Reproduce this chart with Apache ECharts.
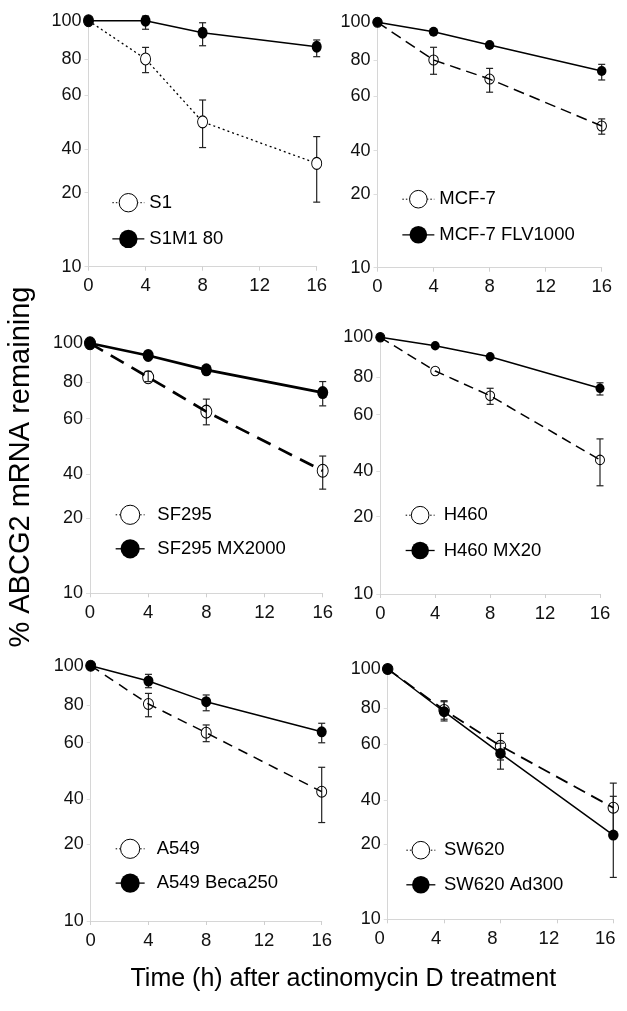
<!DOCTYPE html>
<html><head><meta charset="utf-8">
<script src="https://cdn.jsdelivr.net/npm/echarts@6/dist/echarts.min.js"></script>
<style>html,body{margin:0;padding:0;background:#fff}#c{width:627px;height:1011px}</style>
</head><body><div id="c"></div>
<script>
// ---------- data ----------
const hours = [0, 4, 8, 16];
const xTickInterval = 4;
// y axis is logarithmic (10-100); printed tick texts sit at these scale positions
const yTickValues = [10, 20, 30, 50, 70, 100];
const yTickLabels = ['10', '20', '40', '60', '80', '100'];
const xTitle = 'Time (h) after actinomycin D treatment';
const yTitle = '% ABCG2 mRNA remaining';

// panel 1
const p1Names = ['S1', 'S1M1 80'];
const p1Open = [100, 69.9, 38.8, 26.3];
const p1OpenLow = [null, 61.5, 30.5, 18.3];
const p1OpenHigh = [null, 77.9, 47.6, 33.8];
const p1Filled = [100, 100, 89.4, 78.4];
const p1FilledLow = [null, 92.3, 79.1, 71.4];
const p1FilledHigh = [null, 104.5, 98.1, 83.5];

// panel 2
const p2Names = ['MCF-7', 'MCF-7 FLV1000'];
const p2Open = [100, 70.2, 58.7, 37.8];
const p2OpenLow = [null, 61.4, 51.9, 35.0];
const p2OpenHigh = [null, 79.1, 64.9, 40.4];
const p2Filled = [100, 91.5, 80.8, 63.3];
const p2FilledLow = [null, null, null, 58.2];
const p2FilledHigh = [null, null, null, 67.4];

// panel 3
const p3Names = ['SF295', 'SF295 MX2000'];
const p3Open = [100, 73.2, 53.3, 30.9];
const p3OpenLow = [null, 70.3, 47.2, 26.1];
const p3OpenHigh = [null, 77.2, 59.8, 35.4];
const p3Filled = [100, 89.4, 78.3, 63.5];
const p3FilledLow = [null, null, null, 56.2];
const p3FilledHigh = [null, null, null, 70.3];

// panel 4
const p4Names = ['H460', 'H460 MX20'];
const p4Open = [100, 73.9, 59.2, 33.3];
const p4OpenLow = [null, null, 54.8, 26.4];
const p4OpenHigh = [null, null, 63.3, 40.2];
const p4Filled = [100, 92.7, 84.0, 63.3];
const p4FilledLow = [null, null, null, 59.6];
const p4FilledHigh = [null, null, null, 66.5];

// panel 5
const p5Names = ['A549', 'A549 Beca250'];
const p5Open = [100, 70.8, 54.6, 32.1];
const p5OpenLow = [null, 63.1, 50.4, 24.3];
const p5OpenHigh = [null, 77.9, 58.6, 40.0];
const p5Filled = [100, 87.1, 72.3, 55.1];
const p5FilledLow = [null, 82.0, 66.6, 49.9];
const p5FilledHigh = [null, 92.5, 76.8, 59.5];

// panel 6
const p6Names = ['SW620', 'SW620 Ad300'];
const p6Open = [100, 68.6, 49.3, 27.9];
const p6OpenLow = [null, 63.0, 43.3, 22.4];
const p6OpenHigh = [null, 74.7, 55.3, 35.0];
const p6Filled = [100, 67.5, 46.0, 21.7];
const p6FilledLow = [null, 62.0, 39.8, 14.7];
const p6FilledHigh = [null, 74.0, 50.5, 31.0];

// ---------- layout / style ----------
const FONT = '"Liberation Sans", Arial, sans-serif';
const panels = [
  {names:p1Names, open:[p1Open,p1OpenLow,p1OpenHigh], filled:[p1Filled,p1FilledLow,p1FilledHigh],
   grid:{left:88.5, top:20.7, width:228.2, height:246},
   legend:{left:111.7, top:193, itemGap:17, itemWidth:32, itemHeight:23, pad:0},
   openLine:{type:[2,3], width:1.3}, filledWidth:1.5, sym:[10,12], openFill:'#fff', xPad:0},
  {names:p2Names, open:[p2Open,p2OpenLow,p2OpenHigh], filled:[p2Filled,p2FilledLow,p2FilledHigh],
   grid:{left:377.5, top:22.3, width:224.2, height:245.4},
   legend:{left:401.7, top:189.7, itemGap:16.6, itemWidth:32, itemHeight:22, pad:0},
   openLine:{type:[11,6], width:1.5}, filledWidth:1.5, sym:[9.5,10], openFill:'rgba(255,255,255,0)', xPad:0},
  {names:p3Names, open:[p3Open,p3OpenLow,p3OpenHigh], filled:[p3Filled,p3FilledLow,p3FilledHigh],
   grid:{left:90, top:343.3, width:232.7, height:250},
   legend:{left:115, top:504.7, itemGap:14.3, itemWidth:29, itemHeight:24, pad:7.7},
   openLine:{type:[15,9], width:2.7}, filledWidth:2.7, sym:[11,13], openFill:'rgba(255,255,255,0)', xPad:0},
  {names:p4Names, open:[p4Open,p4OpenLow,p4OpenHigh], filled:[p4Filled,p4FilledLow,p4FilledHigh],
   grid:{left:380.3, top:337.3, width:219.7, height:256.7},
   legend:{left:405, top:505.7, itemGap:16.3, itemWidth:29, itemHeight:22, pad:4},
   openLine:{type:[10,6], width:1.5}, filledWidth:1.5, sym:[9,9.5], openFill:'rgba(255,255,255,0)', xPad:0},
  {names:p5Names, open:[p5Open,p5OpenLow,p5OpenHigh], filled:[p5Filled,p5FilledLow,p5FilledHigh],
   grid:{left:90.7, top:665.7, width:231, height:255.3},
   legend:{left:115, top:838.7, itemGap:14.6, itemWidth:29, itemHeight:24, pad:7},
   openLine:{type:[10,7], width:1.5}, filledWidth:1.5, sym:[10,11], openFill:'rgba(255,255,255,0)', xPad:0},
  {names:p6Names, open:[p6Open,p6OpenLow,p6OpenHigh], filled:[p6Filled,p6FilledLow,p6FilledHigh],
   grid:{left:387.7, top:669, width:225.6, height:250.3},
   legend:{left:405.7, top:840.7, itemGap:15.6, itemWidth:29, itemHeight:22, pad:3.6},
   openLine:{type:[13,7], width:1.8}, filledWidth:1.5, sym:[10.5,11], openFill:'rgba(255,255,255,0)', xPad:16}
];

function yLabel(v) {
  let best = 0, bd = Infinity;
  yTickValues.forEach((t, i) => { const d = Math.abs(t - v); if (d < bd) { bd = d; best = i; } });
  return yTickLabels[best];
}

function renderErr(params, api) {
  const x = api.value(0), lo = api.value(1), hi = api.value(2);
  const p1 = api.coord([x, lo]), p2 = api.coord([x, hi]);
  const cap = 3.5;
  const style = {stroke: '#222', lineWidth: 1.2};
  return {type: 'group', children: [
    {type: 'line', shape: {x1: p1[0], y1: p1[1], x2: p2[0], y2: p2[1]}, style: style},
    {type: 'line', shape: {x1: p1[0] - cap, y1: p1[1], x2: p1[0] + cap, y2: p1[1]}, style: style},
    {type: 'line', shape: {x1: p2[0] - cap, y1: p2[1], x2: p2[0] + cap, y2: p2[1]}, style: style}
  ]};
}

function errData(lo, hi) {
  const out = [];
  hours.forEach((h, i) => { if (lo[i] != null && hi[i] != null) out.push([h, lo[i], hi[i]]); });
  return out;
}

const grid = [], xAxis = [], yAxis = [], legend = [], series = [];
panels.forEach((p, i) => {
  grid.push(Object.assign({containLabel: false}, p.grid));
  xAxis.push({
    type: 'value', gridIndex: i, min: 0, max: 16, interval: xTickInterval,
    axisLine: {onZero: false, lineStyle: {color: '#d6d6d6', width: 1}},
    axisTick: {show: true, length: 4, lineStyle: {color: '#cfcfcf'}},
    axisLabel: {fontSize: 18.5, color: '#111', margin: 10, fontFamily: FONT,
                padding: p.xPad ? [0, p.xPad, 0, 0] : 0},
    splitLine: {show: false}
  });
  yAxis.push({
    type: 'log', logBase: 10, gridIndex: i, min: 10, max: 100,
    axisLine: {show: true, onZero: false, lineStyle: {color: '#d6d6d6', width: 1}},
    axisTick: {show: true, customValues: yTickValues, length: 4, lineStyle: {color: '#dedede'}},
    axisLabel: {customValues: yTickValues, formatter: yLabel, fontSize: 18, color: '#111',
                margin: 7, fontFamily: FONT},
    splitLine: {show: false}, minorTick: {show: false}
  });
  const L = p.legend;
  legend.push({
    orient: 'vertical', left: L.left, top: L.top, padding: 0, itemGap: L.itemGap,
    itemWidth: L.itemWidth, itemHeight: L.itemHeight, selectedMode: false,
    textStyle: {fontSize: 18.5, color: '#000', fontFamily: FONT, padding: [0, 0, 0, L.pad]},
    data: [
      {name: p.names[0], itemStyle: {color: '#fff', borderColor: '#000', borderWidth: 1},
       lineStyle: {type: [1.5, 2], width: 1, color: '#000'}},
      {name: p.names[1], itemStyle: {color: '#000', borderWidth: 0},
       lineStyle: {type: 'solid', width: 1.3, color: '#000'}}
    ]
  });
  // error bars
  series.push({
    type: 'custom', xAxisIndex: i, yAxisIndex: i, z: 1, silent: true,
    renderItem: renderErr, encode: {x: 0, y: [1, 2]},
    data: errData(p.open[1], p.open[2])
  });
  series.push({
    type: 'custom', xAxisIndex: i, yAxisIndex: i, z: 1, silent: true,
    renderItem: renderErr, encode: {x: 0, y: [1, 2]},
    data: errData(p.filled[1], p.filled[2])
  });
  series.push({
    name: p.names[0], type: 'line', xAxisIndex: i, yAxisIndex: i, z: 2, clip: false,
    data: hours.map((h, k) => [h, p.open[0][k]]),
    symbol: 'circle', symbolSize: p.sym, showAllSymbol: true,
    itemStyle: {color: p.openFill, borderColor: '#000', borderWidth: 1},
    lineStyle: {color: '#000', width: p.openLine.width, type: p.openLine.type},
    emphasis: {disabled: true}
  });
  series.push({
    name: p.names[1], type: 'line', xAxisIndex: i, yAxisIndex: i, z: 3, clip: false,
    data: hours.map((h, k) => [h, p.filled[0][k]]),
    symbol: 'circle', symbolSize: p.sym, showAllSymbol: true,
    itemStyle: {color: '#000', borderWidth: 0},
    lineStyle: {color: '#000', width: p.filledWidth, type: 'solid'},
    emphasis: {disabled: true}
  });
});

const chart = echarts.init(document.getElementById('c'), null, {renderer: 'canvas'});
chart.setOption({
  animation: false,
  backgroundColor: '#fff',
  grid: grid, xAxis: xAxis, yAxis: yAxis, legend: legend, series: series,
  graphic: [
    {type: 'text', x: 20.7, y: 467, rotation: Math.PI / 2,
     style: {text: yTitle, fontSize: 29, fill: '#000', align: 'center', verticalAlign: 'middle', fontFamily: FONT}},
    {type: 'text', x: 343.3, y: 979,
     style: {text: xTitle, fontSize: 25, fill: '#000', align: 'center', verticalAlign: 'middle', fontFamily: FONT}}
  ]
});
</script></body></html>
